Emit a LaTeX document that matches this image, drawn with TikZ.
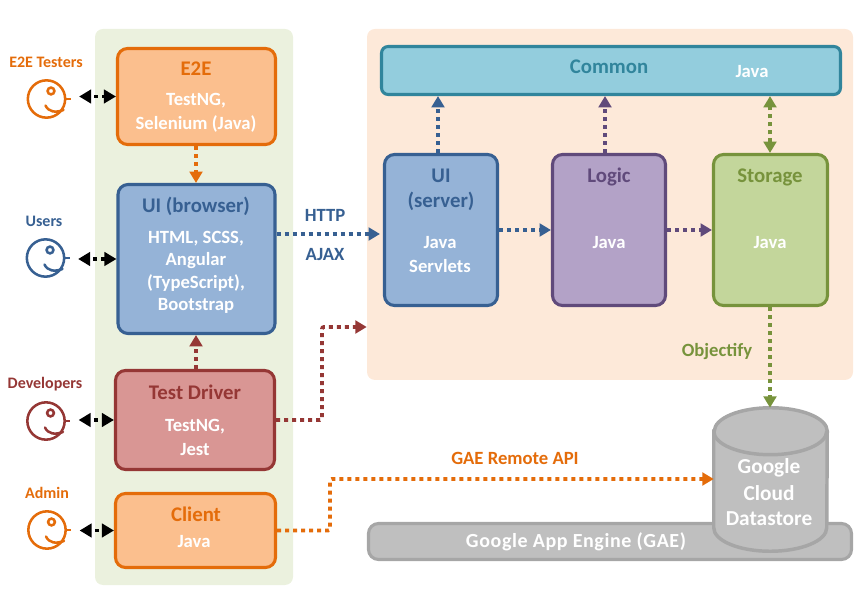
\documentclass[tikz,border=0pt]{standalone}
\usepackage{fontspec}
\setmainfont{Carlito}
\usetikzlibrary{arrows.meta,calc}
\definecolor{orgL}{HTML}{E46C0A}\definecolor{orgF}{HTML}{FBBF8E}
\definecolor{bluL}{HTML}{376092}\definecolor{bluF}{HTML}{95B3D7}
\definecolor{redL}{HTML}{953735}\definecolor{redF}{HTML}{D99694}
\definecolor{purL}{HTML}{604A7B}\definecolor{purF}{HTML}{B3A2C7}
\definecolor{grnL}{HTML}{77933C}\definecolor{grnF}{HTML}{C3D69B}
\definecolor{teaL}{HTML}{31859C}\definecolor{teaF}{HTML}{93CDDD}
\definecolor{gryL}{HTML}{A6A6A6}\definecolor{gryF}{HTML}{BFBFBF}
\definecolor{bgG}{HTML}{EBF1DE}\definecolor{bgP}{HTML}{FDE9D9}
\tikzset{
 x=0.75pt,y=-0.75pt,
 sz/.style 2 args={minimum width=#1*0.75pt,minimum height=#2*0.75pt,inner sep=0pt},
 bgbox/.style={rectangle,rounded corners=6pt,fill=#1},
 cbox/.style 2 args={rectangle,rounded corners=7.5pt,draw=#1,fill=#2,line width=2.3pt},
 ttl/.style={font=\fontsize{15.6}{18}\selectfont\bfseries,text=#1,inner sep=0pt},
 wht/.style={font=\fontsize{14}{16}\selectfont\bfseries,text=white,inner sep=0pt,yshift=-0.75pt},
 lbl/.style={font=\fontsize{12}{14}\selectfont\bfseries,text=#1,inner sep=0pt,yshift=-0.75pt},
 edgelbl/.style={font=\fontsize{14}{16}\selectfont\bfseries,text=#1,inner sep=0pt,yshift=-0.75pt},
 dst/.style={font=\fontsize{16}{18}\selectfont\bfseries,text=white,inner sep=0pt,yshift=-0.75pt},
 flow/.style={draw=#1,line width=2.9pt,dash pattern=on 3pt off 3pt,
   -{Triangle[length=8.5pt,width=9.5pt,fill=#1]}},
 flowb/.style={draw=#1,line width=2.9pt,dash pattern=on 3pt off 3pt,
   {Triangle[length=8.5pt,width=9.5pt,fill=#1]}-{Triangle[length=8.5pt,width=9.5pt,fill=#1]}},
 usr/.style={draw=black,line width=2.9pt,dash pattern=on 3pt off 3pt,dash phase=3pt,shorten <=9.5pt,
   {Triangle[length=9pt,width=10pt]}-{Triangle[length=9pt,width=10pt]}},
 head/.style={circle,draw=#1,line width=1.9pt,minimum size=28pt,inner sep=0pt},
 pics/face/.style={code={
   \draw[#1,line width=1.9pt] (4.5,-8) circle (3.4);
   \draw[#1,line width=1.9pt] (19,0) -- (24,0);
   \draw[#1,line width=1.9pt,line cap=round] (-1,6.5) .. controls (2,13) and (9,14) .. (17,11);
 }},
}
\begin{document}
\begin{tikzpicture}
\useasboundingbox (0,0) rectangle (864,605);
% backgrounds
\node[bgbox=bgG,sz={198}{556}] (leftbg) at (194,307) {};
\node[bgbox=bgP,sz={486}{351}] (backend) at (610,204.5) {};
\node[cbox={gryL}{gryF},sz={483}{36}] (gae) at (610,541.5) {};
% boxes
\node[cbox={orgL}{orgF},sz={158}{96}] (e2e) at (196.5,96.5) {};
\node[cbox={bluL}{bluF},sz={157}{149}] (ub) at (196.5,259) {};
\node[cbox={redL}{redF},sz={159}{99}] (td) at (195,420) {};
\node[cbox={orgL}{orgF},sz={160}{74}] (cl) at (195.5,530.5) {};
\node[cbox={teaL}{teaF},rounded corners=5pt,sz={459}{48}] (cm) at (611,70.5) {};
\node[cbox={bluL}{bluF},sz={113}{151}] (us) at (441,230) {};
\node[cbox={purL}{purF},sz={113}{151}] (lg) at (609,230) {};
\node[cbox={grnL}{grnF},sz={114}{151}] (st) at (770.5,230) {};
% datastore cylinder
\node[sz={113}{143}] (ds) at (770.5,479.5) {};
\draw[draw=gryL,fill=gryF,line width=2.6pt]
  ($(ds.north west)+(0,23.5)$) -- ($(ds.south west)+(0,-23.5)$)
  arc[start angle=180,end angle=0,x radius=56.5,y radius=23.5]
  -- ($(ds.north east)+(0,23.5)$)
  arc[start angle=0,end angle=-180,x radius=56.5,y radius=23.5] -- cycle;
\draw[draw=gryL,line width=2.6pt]
  ($(ds.north west)+(0,23.5)$) arc[start angle=180,end angle=0,x radius=56.5,y radius=23.5];
% actors
\node[head=orgL] (a1) at (46.5,99) {}; \pic at (46.5,99) {face=orgL};
\node[head=bluL] (a2) at (45.5,258) {}; \pic at (45.5,258) {face=bluL};
\node[head=redL] (a3) at (46,421) {}; \pic at (46,421) {face=redL};
\node[head=orgL] (a4) at (47,530) {}; \pic at (47,530) {face=orgL};
\node[lbl=orgL] (la1) at (46,61) {E2E Testers};
\node[lbl=bluL] (la2) at (44,220) {Users};
\node[lbl=redL] (la3) at (45,383) {Developers};
\node[lbl=orgL] (la4) at (47,492) {Admin};
% texts
\node[ttl=orgL] (t1) at (196,69) {E2E};
\node[wht] (t1a) at (196,100) {TestNG,};
\node[wht] (t1b) at (196,123) {Selenium (Java)};
\node[ttl=bluL] (t2) at (196,206) {UI (browser)};
\node[wht] (t2a) at (196,238) {HTML, SCSS,};
\node[wht] (t2b) at (196,260) {Angular};
\node[wht] (t2c) at (196,282) {(TypeScript),};
\node[wht] (t2d) at (196,305) {Bootstrap};
\node[ttl=redL] (t3) at (195,392) {Test Driver};
\node[wht] (t3a) at (195,426) {TestNG,};
\node[wht] (t3b) at (195,449) {Jest};
\node[ttl=orgL] (t4) at (196,514) {Client};
\node[wht] (t4a) at (194,541) {Java};
\node[ttl=teaL] (t5) at (609,67) {Common};
\node[wht] (t5a) at (752,71) {Java};
\node[ttl=bluL] (t6) at (441,176) {UI};
\node[ttl=bluL] (t6a) at (441,201) {(server)};
\node[wht] (t6b) at (440,242) {Java};
\node[wht] (t6c) at (440,265) {Servlets};
\node[ttl=purL] (t7) at (609,177) {Logic};
\node[wht] (t7a) at (609,242) {Java};
\node[ttl=grnL] (t8) at (770,177) {Storage};
\node[wht] (t8a) at (770,242) {Java};
\node[edgelbl=bluL] (e1) at (325,214) {HTTP};
\node[edgelbl=bluL] (e2) at (325,254) {AJAX};
\node[edgelbl=grnL] (e3) at (717,351) {Objectify};
\node[edgelbl=orgL] (e4) at (515,457) {GAE Remote API};
\node[font=\fontsize{15}{18}\selectfont\bfseries,text=white,inner sep=0pt,yshift=-0.75pt] (e5) at (576,541) {\addfontfeature{LetterSpace=3}Google App Engine (GAE)};
\node[dst] (d1) at (769,467) {Google};
\node[dst] (d2) at (769,492) {Cloud};
\node[dst] (d3) at (769,518) {Datastore};
% helper coordinates
\coordinate (y234) at (0,234);
\coordinate (xc1) at (438,0);
\coordinate (xc2) at (605,0);
\coordinate (xc3) at (770,0);
\coordinate (xc4) at (196,0);
\coordinate (td1) at (322,327);
\coordinate (cl1) at (330,479);
% connectors
\draw[usr] (a1.east|-e2e.west) -- (e2e.west);
\draw[usr] (a2.east|-ub.west) -- (ub.west);
\draw[usr] (a3.east|-td.west) -- (td.west);
\draw[usr] (a4.east|-cl.west) -- (cl.west);
\draw[flow=orgL] (xc4|-e2e.south) -- (xc4|-ub.north);
\draw[flow=redL] (xc4|-td.north) -- (xc4|-ub.south);
\draw[flow=bluL] (ub.east|-y234) -- ($(us.west|-y234)+(-3,0)$);
\draw[flow=bluL] (xc1|-us.north) -- (xc1|-cm.south);
\draw[flow=purL] (xc2|-lg.north) -- (xc2|-cm.south);
\draw[flowb=grnL] (xc3|-st.north) -- (xc3|-cm.south);
\draw[flow=bluL] (us.east) -- (lg.west);
\draw[flow=purL] (lg.east) -- (st.west);
\draw[flow=grnL] (xc3|-st.south) -- (xc3|-ds.north);
\draw[flow=redL,rounded corners=1.5pt] (td.east) -| (td1) -- (backend.west|-td1);
\draw[flow=orgL,rounded corners=1.5pt] (cl.east) -| (cl1) -- (ds.west|-cl1);
\end{tikzpicture}
\end{document}
